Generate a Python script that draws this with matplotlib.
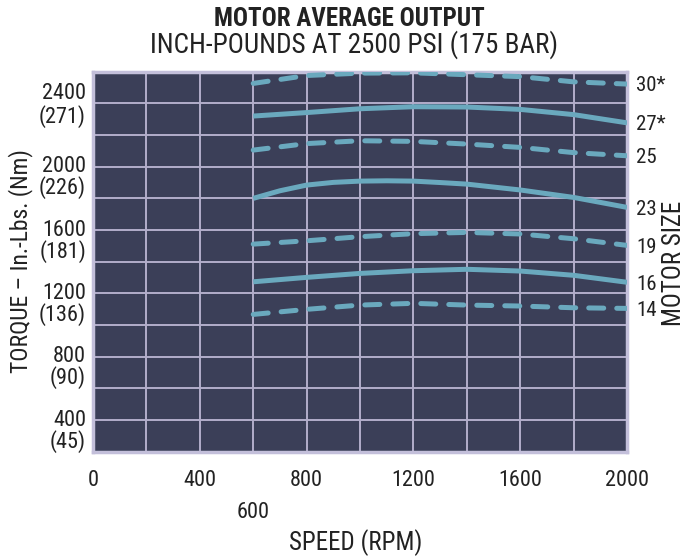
import matplotlib.pyplot as plt
from matplotlib.transforms import blended_transform_factory

plt.rcParams['font.family'] = ['Roboto Condensed', 'Archivo Narrow', 'DejaVu Sans']

# speed (RPM) and torque (in-lbs), one list per motor size
rpm = [600, 800, 1000, 1200, 1400, 1600, 1800, 2000]
rpm_23 = [600, 700, 800, 900, 1000, 1100, 1200, 1300, 1400, 1600, 1800, 2000]

torque_30 = [2526, 2576, 2591, 2593, 2581, 2569, 2536, 2522]
torque_27 = [2320, 2342, 2366, 2379, 2377, 2362, 2329, 2277]
torque_25 = [2105, 2146, 2164, 2160, 2143, 2122, 2089, 2069]
torque_23 = [1800, 1848, 1884, 1901, 1909, 1911, 1909, 1900, 1890, 1853, 1806, 1743]
torque_19 = [1511, 1532, 1558, 1577, 1585, 1575, 1545, 1503]
torque_16 = [1273, 1301, 1326, 1343, 1352, 1341, 1314, 1270]
torque_14 = [1067, 1099, 1126, 1137, 1126, 1120, 1109, 1105]

sizes = ['30*', '27*', '25', '23', '19', '16', '14']
dashed = [True, False, True, False, True, False, True]

y_ticks = [2400, 2000, 1600, 1200, 800, 400]
y_nm = ['(271)', '(226)', '(181)', '(136)', '(90)', '(45)']
x_ticks = [0, 400, 800, 1200, 1600, 2000]

bg = '#3b3f58'
grid_c = '#b3aecb'
line_c = '#6aa9be'
text_c = '#222222'
fs = 16

fig = plt.figure(figsize=(7, 5.59), dpi=100)
ax = fig.add_axes([0.1329, 0.1920, 0.7629, 0.6797])
ax.set_facecolor(bg)

series = [
    (rpm, torque_30), (rpm, torque_27), (rpm, torque_25), (rpm_23, torque_23),
    (rpm, torque_19), (rpm, torque_16), (rpm, torque_14),
]
ty = blended_transform_factory(ax.transAxes, ax.transData)
for (xs, ys), name, dash in zip(series, sizes, dashed):
    ln, = ax.plot(xs, ys, color=line_c, lw=3.6, solid_capstyle='butt',
                  solid_joinstyle='round', zorder=3)
    if dash:
        ln.set_dashes((3.0, 2.6))
        ln.set_dash_capstyle('round')
    ax.text(1.017, ys[-1] - 12, name, transform=ty, ha='left', va='center',
            fontsize=15, color=text_c)

ax.set_xlim(0, 2000)
ax.set_ylim(200, 2600)
ax.set_xticks(range(0, 2001, 200))
ax.set_yticks(range(400, 2401, 200))
ax.set_xticklabels([])
ax.set_yticklabels([])
ax.tick_params(length=0)
ax.grid(True, color=grid_c, lw=1.4, zorder=1)
ax.set_axisbelow(True)
for s in ax.spines.values():
    s.set_color('#c3bfda')
    s.set_linewidth(2.5)

# tick labels drawn as text
tx = blended_transform_factory(ax.transData, ax.transAxes)
for v in x_ticks:
    ax.text(v, -0.076, str(v), transform=tx, ha='center', va='center', fontsize=fs, color=text_c)
ax.text(600, -0.16, '600', transform=tx, ha='center', va='center', fontsize=fs, color=text_c)

for v, nm in zip(y_ticks, y_nm):
    if v == 2400:
        ax.text(-0.013, v + 65, str(v), transform=ty, ha='right', va='center', fontsize=fs, color=text_c)
        ax.text(-0.013, v - 86, nm, transform=ty, ha='right', va='center', fontsize=fs, color=text_c)
    else:
        ax.text(-0.013, v, str(v), transform=ty, ha='right', va='center', fontsize=fs, color=text_c)
        ax.text(-0.013, v - 133, nm, transform=ty, ha='right', va='center', fontsize=fs, color=text_c)

fig.text(349 / 700, 1 - 19 / 559, 'MOTOR AVERAGE OUTPUT', ha='center', va='center',
         fontsize=18, fontweight='bold', color=text_c)
fig.text(354 / 700, 1 - 45 / 559, 'INCH-POUNDS AT 2500 PSI (175 BAR)', ha='center', va='center',
         fontsize=19.5, color=text_c)
fig.text(356 / 700, 1 - 543 / 559, 'SPEED (RPM)', ha='center', va='center', fontsize=18, color=text_c)
fig.text(20.5 / 700, 1 - 261.5 / 559, 'TORQUE – In.-Lbs. (Nm)', ha='center', va='center',
         rotation=90, fontsize=17, color=text_c)
fig.text(674 / 700, 1 - 263.5 / 559, 'MOTOR SIZE', ha='center', va='center',
         rotation=90, fontsize=18, color=text_c)

fig.savefig('out.png', dpi=100)
